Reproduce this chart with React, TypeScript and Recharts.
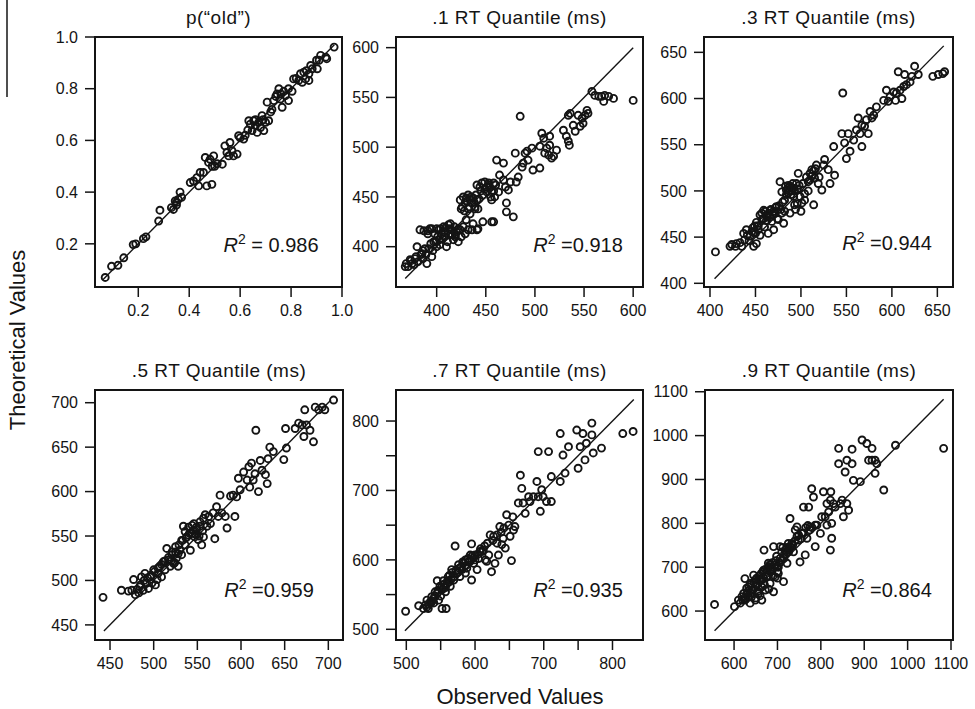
import { ScatterChart, Scatter, XAxis, YAxis, ReferenceArea, ReferenceLine } from 'recharts';

// observed (x) vs theoretical (y)
const pOld: [number, number][] = [
  [0.07, 0.07], [0.095, 0.113], [0.12, 0.117], [0.143, 0.146], [0.18, 0.197], [0.19, 0.2], [0.22, 0.22], [0.23, 0.227],
  [0.28, 0.288], [0.285, 0.33], [0.338, 0.333], [0.345, 0.366], [0.35, 0.36], [0.357, 0.372], [0.33, 0.34], [0.35, 0.35],
  [0.37, 0.38], [0.364, 0.4], [0.404, 0.437], [0.417, 0.443], [0.43, 0.456], [0.437, 0.424], [0.443, 0.476], [0.456, 0.476],
  [0.463, 0.534], [0.469, 0.424], [0.482, 0.527], [0.489, 0.43], [0.496, 0.54], [0.476, 0.515], [0.49, 0.5], [0.5, 0.5],
  [0.51, 0.51], [0.53, 0.508], [0.54, 0.579], [0.548, 0.553], [0.555, 0.54], [0.56, 0.592], [0.568, 0.56], [0.574, 0.54],
  [0.588, 0.547], [0.594, 0.618], [0.6, 0.61], [0.614, 0.605], [0.62, 0.62], [0.63, 0.64], [0.634, 0.676], [0.64, 0.663],
  [0.647, 0.638], [0.653, 0.676], [0.66, 0.657], [0.66, 0.68], [0.667, 0.631], [0.673, 0.67], [0.68, 0.65], [0.686, 0.696],
  [0.69, 0.68], [0.693, 0.638], [0.7, 0.67], [0.706, 0.748], [0.712, 0.676], [0.72, 0.71], [0.725, 0.72], [0.732, 0.754],
  [0.74, 0.77], [0.745, 0.78], [0.752, 0.8], [0.758, 0.76], [0.76, 0.78], [0.765, 0.728], [0.771, 0.79], [0.778, 0.773],
  [0.79, 0.754], [0.79, 0.8], [0.804, 0.79], [0.81, 0.838], [0.82, 0.84], [0.83, 0.832], [0.837, 0.858], [0.844, 0.825],
  [0.85, 0.864], [0.857, 0.838], [0.86, 0.87], [0.87, 0.858], [0.87, 0.832], [0.877, 0.89], [0.883, 0.877], [0.9, 0.91],
  [0.903, 0.877], [0.91, 0.91], [0.916, 0.929], [0.936, 0.922], [0.94, 0.916], [0.969, 0.961],
];

const q1: [number, number][] = [
  [368, 380], [369, 383], [373, 387], [375, 383], [378, 388], [380, 400], [383, 417], [385, 393], [386, 388], [388, 398],
  [390, 383], [391, 413], [393, 418], [395, 390], [397, 405], [398, 413], [400, 400], [402, 417], [403, 407], [405, 413],
  [407, 420], [408, 410], [410, 400], [412, 422], [414, 413], [415, 417], [417, 407], [419, 410], [422, 405], [424, 417],
  [425, 410], [427, 420], [429, 413], [430, 427], [432, 417], [434, 433], [436, 417], [437, 423], [441, 417], [442, 418],
  [424, 447], [425, 438], [429, 444], [430, 449], [432, 438], [434, 447], [436, 444], [437, 449], [439, 440], [441, 447],
  [442, 438], [441, 462], [446, 464], [449, 465], [451, 460], [453, 464], [454, 460], [456, 455], [458, 464], [456, 447],
  [459, 450], [447, 425], [456, 425], [458, 425], [461, 487], [468, 484], [463, 455], [464, 472], [468, 467], [470, 460],
  [471, 444], [473, 457], [471, 435], [478, 430], [475, 465], [480, 494], [481, 465], [483, 470], [485, 531], [487, 480],
  [488, 484], [490, 494], [492, 496], [493, 487], [497, 499], [498, 477], [505, 479], [505, 501], [507, 514], [509, 509],
  [510, 494], [512, 499], [514, 492], [515, 511], [517, 489], [519, 491], [522, 497], [515, 502], [529, 517], [532, 511],
  [534, 506], [535, 502], [534, 532], [536, 534], [539, 522], [541, 516], [544, 532], [546, 521], [548, 529], [549, 524],
  [551, 532], [553, 537], [554, 534], [558, 556], [561, 552], [565, 551], [568, 551], [570, 546], [571, 552], [575, 551],
  [580, 549], [600, 547],
  [371, 380], [374, 386], [377, 382], [379, 390], [381, 385], [384, 392], [386, 396], [389, 392], [392, 398], [394, 403],
  [396, 396], [399, 405], [401, 410], [403, 402], [406, 408], [408, 415], [411, 405], [413, 418], [416, 412], [418, 420],
  [420, 415], [422, 418], [404, 418], [400, 418], [395, 418], [387, 416], [391, 416], [409, 419], [414, 423], [419, 412],
  [426, 440], [428, 436], [431, 446], [433, 440], [435, 450], [438, 445], [440, 452], [443, 448], [445, 456], [447, 452],
  [449, 458], [451, 455], [453, 462], [444, 460], [439, 438], [427, 450], [432, 452], [455, 450], [458, 456], [460, 462],
];

const q3: [number, number][] = [
  [406, 434], [422, 440], [424, 442], [428, 440], [429, 443], [433, 444], [435, 440], [437, 454], [440, 458], [444, 451],
  [446, 456], [448, 440], [450, 454], [451, 443], [453, 458], [455, 452], [457, 469], [459, 479], [460, 461], [462, 474],
  [464, 454], [466, 479], [468, 467], [470, 458], [471, 476], [473, 483], [475, 469], [477, 510], [479, 476], [481, 465],
  [482, 490], [484, 501], [479, 499], [486, 506], [488, 476], [490, 503], [492, 494], [493, 485], [495, 508], [497, 519],
  [499, 494], [501, 487], [504, 497], [508, 510], [510, 519], [512, 523], [514, 485], [515, 514], [517, 528], [519, 508],
  [523, 501], [525, 528], [526, 534], [530, 523], [532, 508], [536, 548], [537, 517], [545, 562], [546, 606], [548, 552],
  [550, 535], [552, 562], [554, 543], [558, 555], [561, 566], [563, 579], [565, 562], [567, 571], [567, 548], [570, 570],
  [572, 577], [574, 562], [576, 586], [578, 579], [580, 582], [583, 591], [591, 598], [594, 609], [596, 597], [598, 602],
  [602, 607], [604, 598], [605, 606], [607, 629], [609, 609], [611, 600], [613, 613], [614, 626], [616, 615], [620, 618],
  [622, 624], [625, 635], [629, 626], [645, 624], [651, 626], [656, 627], [658, 629],
  [448, 455], [452, 462], [458, 470], [462, 468], [466, 472], [470, 478], [474, 470], [478, 480], [482, 478], [486, 498],
  [488, 505], [490, 500], [492, 503], [494, 480], [496, 486], [500, 478], [504, 490], [508, 500], [512, 516], [514, 522],
  [516, 524], [520, 515],
  [438, 447], [441, 452], [443, 446], [447, 460], [449, 462], [451, 466], [453, 462], [455, 474], [457, 476], [459, 470],
  [461, 478], [463, 472], [465, 476], [467, 480], [469, 474], [472, 482], [476, 484], [480, 488], [484, 496], [487, 500],
  [489, 496], [491, 508], [493, 500], [496, 502], [498, 506], [502, 508], [506, 515], [510, 512], [486, 503], [483, 505],
];

const q5: [number, number][] = [
  [442, 481], [463, 489], [471, 488], [475, 489], [477, 501], [479, 484], [483, 486], [484, 493], [486, 504], [488, 489],
  [490, 508], [492, 497], [494, 491], [496, 504], [498, 497], [500, 512], [502, 495], [504, 501], [505, 508], [507, 516],
  [509, 504], [511, 521], [513, 512], [515, 536], [517, 523], [519, 516], [521, 529], [523, 519], [525, 532], [526, 525],
  [528, 516], [530, 534], [532, 529], [534, 561], [536, 540], [538, 549], [540, 551], [542, 534], [544, 553], [546, 564],
  [547, 549], [549, 557], [551, 546], [553, 561], [555, 540], [557, 549], [559, 574], [561, 561], [563, 572], [565, 564],
  [568, 576], [570, 547], [572, 583], [574, 572], [576, 596], [578, 576], [582, 572], [584, 559], [588, 595], [591, 596],
  [593, 572], [595, 594], [597, 615], [599, 602], [603, 622], [607, 613], [609, 628], [610, 605], [612, 632], [614, 613],
  [616, 620], [617, 669], [620, 600], [622, 635], [624, 624], [628, 619], [630, 609], [631, 637], [633, 650], [637, 645],
  [649, 636], [651, 671], [652, 649], [662, 671], [666, 677], [670, 675], [672, 662], [673, 692], [675, 675], [679, 669],
  [683, 656], [685, 695], [689, 692], [693, 695], [696, 692], [706, 703],
  [481, 490], [485, 495], [489, 500], [493, 503], [497, 506], [501, 510], [505, 514], [509, 518], [513, 522], [517, 526],
  [521, 532], [525, 538], [529, 540], [533, 545], [537, 548], [541, 553], [545, 556], [549, 560], [553, 566], [557, 570],
  [520, 522], [524, 520], [528, 530], [532, 545], [536, 555], [540, 560], [544, 562], [548, 552], [552, 550], [556, 556],
];

const q7: [number, number][] = [
  [499, 526], [518, 534], [525, 530], [528, 535], [530, 542], [532, 530], [535, 540], [537, 547], [540, 538], [542, 554],
  [545, 570], [547, 542], [549, 562], [552, 530], [554, 570], [557, 554], [558, 530], [559, 566], [561, 576], [564, 562],
  [566, 586], [569, 571], [571, 620], [574, 581], [576, 593], [578, 576], [581, 586], [583, 595], [586, 581], [588, 588],
  [591, 598], [593, 607], [595, 571], [595, 623], [598, 595], [600, 607], [603, 586], [605, 602], [607, 612], [612, 614],
  [615, 600], [617, 598], [620, 607], [622, 636], [624, 583], [627, 634], [629, 595], [632, 624], [634, 607], [636, 648],
  [639, 622], [641, 631], [644, 617], [646, 665], [649, 650], [651, 634], [653, 599], [655, 662], [656, 643], [658, 648],
  [663, 682], [666, 722], [668, 703], [670, 682], [673, 667], [678, 691], [680, 684], [685, 691], [690, 713], [692, 691],
  [695, 670], [697, 701], [699, 691], [704, 684], [692, 756], [707, 756], [711, 684], [711, 720], [724, 713], [724, 782],
  [728, 751], [731, 725], [736, 763], [748, 787], [750, 732], [753, 763], [757, 782], [760, 744], [762, 768], [770, 797],
  [770, 780], [772, 754], [784, 761], [815, 782], [830, 785],
  [536, 538], [540, 545], [545, 552], [550, 548], [553, 558], [557, 560], [562, 568], [565, 572], [570, 576], [575, 583],
  [580, 590], [587, 592], [593, 598], [598, 603], [604, 608], [610, 612],
  [530, 532], [533, 536], [538, 541], [542, 548], [546, 556], [551, 560], [555, 565], [560, 570], [563, 578], [567, 582],
  [572, 585], [577, 588], [582, 597], [586, 600], [590, 602], [596, 606], [600, 600], [608, 616], [614, 620], [618, 624],
  [626, 628], [632, 636], [638, 640], [642, 646],
];

const q9: [number, number][] = [
  [555, 615], [601, 610], [610, 625], [614, 618], [618, 633], [622, 640], [625, 625], [629, 652], [625, 674], [633, 633],
  [637, 663], [637, 618], [641, 648], [645, 682], [649, 625], [652, 659], [656, 640], [660, 674], [664, 625], [664, 655],
  [668, 693], [669, 739], [672, 648], [675, 678], [679, 709], [683, 663], [687, 693], [691, 644], [691, 747], [695, 678],
  [699, 701], [702, 686], [706, 747], [710, 716], [714, 667], [718, 739], [722, 709], [725, 754], [729, 747], [729, 811],
  [733, 754], [737, 735], [741, 785], [745, 792], [749, 773], [752, 712], [756, 777], [760, 837], [764, 728], [768, 766],
  [772, 837], [775, 792], [779, 879], [783, 860], [787, 747], [787, 796], [791, 796], [799, 777], [802, 815], [806, 872],
  [810, 815], [814, 845], [814, 796], [818, 826], [822, 853], [822, 739], [823, 872], [825, 766], [825, 800], [829, 845],
  [833, 837], [841, 936], [841, 971], [845, 845], [849, 853], [852, 815], [856, 917], [860, 845], [860, 944], [864, 830],
  [872, 936], [872, 969], [875, 898], [891, 895], [895, 990], [906, 982], [910, 944], [918, 971], [918, 944], [925, 944],
  [925, 914], [929, 936], [945, 876], [972, 978], [1083, 971],
  [630, 640], [640, 632], [645, 650], [650, 660], [655, 645], [660, 668], [665, 672], [670, 660], [675, 690], [680, 700],
  [685, 690], [690, 680], [695, 705], [700, 690], [705, 710], [715, 720], [720, 730], [725, 740], [730, 745], [650, 630],
  [660, 635], [680, 650], [700, 675],
  [620, 625], [624, 630], [628, 628], [632, 645], [634, 655], [638, 660], [642, 640], [646, 665], [648, 670], [652, 675],
  [654, 662], [658, 680], [662, 685], [666, 690], [668, 675], [672, 695], [676, 680], [678, 695], [682, 705], [686, 700],
  [688, 710], [692, 700], [696, 715], [698, 725], [702, 700], [706, 720], [710, 735], [712, 745], [716, 730], [722, 745],
  [726, 735], [735, 750], [740, 760], [745, 770], [748, 762], [755, 765], [760, 778], [765, 790], [770, 795], [775, 785],
  [780, 790],
];

const titles = ['p(“old”)', '.1 RT Quantile (ms)', '.3 RT Quantile (ms)', '.5 RT Quantile (ms)', '.7 RT Quantile (ms)', '.9 RT Quantile (ms)'];
const r2Labels = ['= 0.986', '=0.918', '=0.944', '=0.959', '=0.935', '=0.864'];

const xDomains: [number, number][] = [[0.03, 1.0], [358.6, 610], [393.4, 667.2], [432.8, 716.8], [485, 844.4], [533, 1104.6]];
const yDomains: [number, number][] = [[0.033, 1.0], [359.5, 610.7], [396, 666.6], [433, 714.3], [484.6, 844.7], [534, 1104]];
const ticks1 = [0.2, 0.4, 0.6, 0.8, 1.0];
const ticks2 = [400, 450, 500, 550, 600];
const ticks3 = [400, 450, 500, 550, 600, 650];
const ticks4 = [450, 500, 550, 600, 650, 700];
const ticks5 = [500, 550, 600, 650, 700, 750, 800];
const ticks6 = [600, 700, 800, 900, 1000, 1100];
const identity: [number, number][] = [[0.06, 0.97], [368, 600], [405, 657], [443, 703], [498, 831], [555, 1083]];

const FONT = '"Liberation Sans", Arial, Helvetica, sans-serif';
const INK = '#141414';

// plot-box layout [left, top, right, bottom]
const boxes = [
  [95, 37, 342, 287], [396, 37, 643, 287], [704, 37, 953, 287],
  [95, 390, 343, 640], [396, 390, 643, 640], [705, 390, 953, 640],
];
const r2Pos = [[271, 252], [578, 252], [887, 250], [269, 597], [578, 597], [887, 597]];

const YW = 70;
const MT = 8;
const MR = 30;
const XH = 40;

const panels = [
  { data: pOld, ticks: ticks1, fmt: (v: number) => v.toFixed(1) },
  { data: q1, ticks: ticks2, fmt: (v: number) => String(v) },
  { data: q3, ticks: ticks3, fmt: (v: number) => String(v) },
  { data: q5, ticks: ticks4, fmt: (v: number) => String(v) },
  { data: q7, ticks: ticks5, fmt: (v: number) => (v % 100 === 0 ? String(v) : '') },
  { data: q9, ticks: ticks6, fmt: (v: number) => String(v) },
];

const Ring = (p: any) => (
  <circle cx={p.cx} cy={p.cy} r={3.5} fill="none" stroke={INK} strokeWidth={1.9} />
);

const tickStyle = { fontSize: 16, fill: INK, fontFamily: FONT };

const Panel = ({ i }: { i: number }) => {
  const [l, t, r, b] = boxes[i];
  const p = panels[i];
  const [xl, xh] = xDomains[i];
  const [yl, yh] = yDomains[i];
  const [a, z] = identity[i];
  const pts = p.data.map(([x, y]) => ({ x, y }));
  return (
    <div style={{ position: 'absolute', left: l - YW, top: t - MT }}>
      <ScatterChart
        width={r - l + YW + MR}
        height={b - t + MT + XH}
        margin={{ top: MT, right: MR, bottom: 0, left: 0 }}
      >
        <XAxis
          type="number"
          dataKey="x"
          domain={[xl, xh]}
          allowDataOverflow
          ticks={p.ticks}
          interval={0}
          tickFormatter={p.fmt}
          height={XH}
          axisLine={false}
          tickSize={10}
          tickMargin={8}
          tickLine={{ stroke: INK, strokeWidth: 1.5 }}
          tick={tickStyle}
        />
        <YAxis
          type="number"
          dataKey="y"
          domain={[yl, yh]}
          allowDataOverflow
          ticks={p.ticks}
          interval={0}
          tickFormatter={p.fmt}
          width={YW}
          axisLine={false}
          tickSize={10}
          tickMargin={7}
          tickLine={{ stroke: INK, strokeWidth: 1.5 }}
          tick={tickStyle}
        />
        <ReferenceArea x1={xl} x2={xh} y1={yl} y2={yh} fill="none" fillOpacity={0} stroke={INK} strokeWidth={2} strokeOpacity={1} />
        <ReferenceLine segment={[{ x: a, y: a }, { x: z, y: z }]} stroke={INK} strokeWidth={1.4} />
        <Scatter data={pts} shape={Ring} isAnimationActive={false} />
      </ScatterChart>
    </div>
  );
};

export default function App() {
  return (
    <div style={{ position: 'absolute', left: 0, top: 0, width: 975, height: 709, background: '#fff', overflow: 'hidden' }}>
      {panels.map((_, i) => (
        <Panel key={i} i={i} />
      ))}
      <svg width={975} height={709} style={{ position: 'absolute', left: 0, top: 0, pointerEvents: 'none' }} fontFamily={FONT} fill={INK}>
        <line x1={7} y1={0} x2={7} y2={97} stroke={INK} strokeWidth={1.5} />
        {titles.map((s, i) => {
          const [l, t, r] = boxes[i];
          return (
            <text key={s} x={(l + r) / 2} y={t - 13} textAnchor="middle" fontSize={19} letterSpacing={0.5}>
              {s}
            </text>
          );
        })}
        {r2Labels.map((s, i) => (
          <text key={s} x={r2Pos[i][0]} y={r2Pos[i][1]} textAnchor="middle" fontSize={20}>
            <tspan fontStyle="italic">R</tspan>
            <tspan fontSize={14} dy={-8}>2</tspan>
            <tspan dy={8}>{' ' + s}</tspan>
          </text>
        ))}
        <text x={520} y={704} textAnchor="middle" fontSize={22}>Observed Values</text>
        <text transform="translate(25,340) rotate(-90)" textAnchor="middle" fontSize={22}>Theoretical Values</text>
      </svg>
    </div>
  );
}
